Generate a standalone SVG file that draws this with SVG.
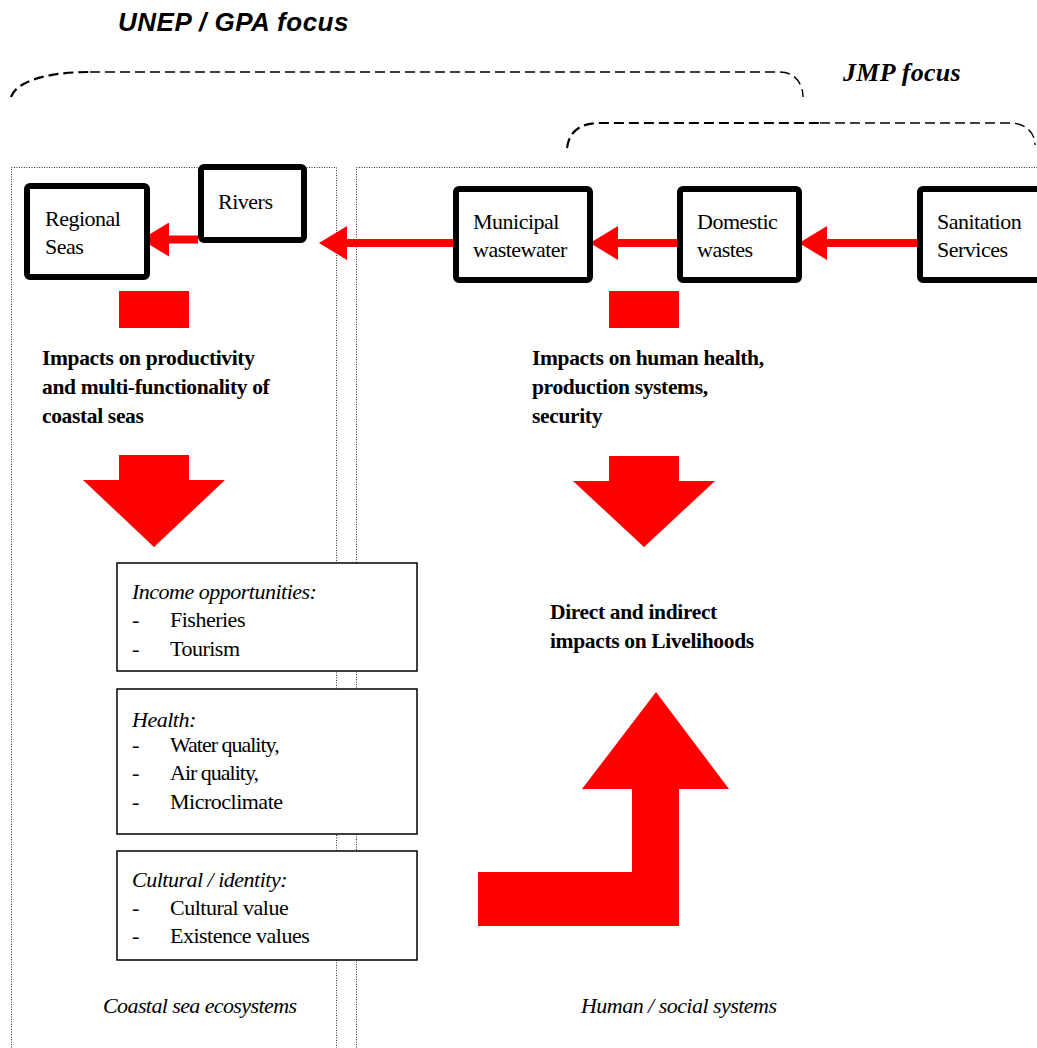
<svg xmlns="http://www.w3.org/2000/svg" width="1037" height="1048" viewBox="0 0 1037 1048">
  <style>
    .serif { font-family: "Liberation Serif", "Times New Roman", serif; fill: #000; }
    .node-box { fill: #fff; stroke: #000; stroke-width: 6; }
    .node-text { font-size: 22px; letter-spacing: -0.5px; }
    .impact { font-size: 21.5px; font-weight: bold; letter-spacing: -0.35px; }
    .list-box { fill: #fff; stroke: #000; stroke-width: 1.5; }
    .list { font-size: 22px; letter-spacing: -0.5px; }
    .list-tight { font-size: 22px; letter-spacing: -1px; }
    .ital { font-style: italic; }
    .panel { fill: none; stroke: #333; stroke-width: 1; stroke-dasharray: 1 1.5; }
    .brace-heavy { fill: none; stroke: #000; stroke-width: 2.2; stroke-dasharray: 10 5; }
    .brace-light { fill: none; stroke: #000; stroke-width: 1.4; stroke-dasharray: 10 5; }
    .flow { stroke: #ff0000; stroke-width: 8; fill: none; marker-end: url(#head); }
    .block { fill: #ff0000; }
  </style>
  <defs>
    <marker id="head" markerUnits="userSpaceOnUse" viewBox="0 0 28 34" markerWidth="28" markerHeight="34" refX="0" refY="17" orient="auto">
      <path d="M0,0 L28,17 L0,34 Z" fill="#ff0000"/>
    </marker>
  </defs>

  <rect width="1037" height="1048" fill="#fff"/>

  <!-- focus titles -->
  <text x="118" y="31" font-family="Liberation Sans, Arial, sans-serif" font-size="26" font-weight="bold" font-style="italic" letter-spacing="0.5">UNEP / GPA focus</text>
  <text class="serif" x="843" y="81" font-size="26" font-weight="bold" font-style="italic" letter-spacing="0.3">JMP focus</text>

  <!-- focus braces -->
  <g id="braces">
    <path class="brace-heavy" d="M11,97 C16,82 45,72 90,72"/>
    <path class="brace-light" d="M90,72 L780,72 C795,72 803,84 803,97"/>
    <path class="brace-heavy" d="M567,148 C569,133 578,123 600,123 L820,123"/>
    <path class="brace-light" d="M820,123 L1010,123 C1026,123 1035,133 1035,145"/>
  </g>

  <!-- system panels -->
  <g id="panels">
    <path class="panel" d="M11.5,1060 V167.5 H336.5 V1060"/>
    <path class="panel" d="M356.5,1060 V167.5 H1040"/>
  </g>

  <!-- connectors -->
  <g id="connectors">
    <line class="flow" x1="918" y1="243" x2="827" y2="243"/>
    <line class="flow" x1="677" y1="243" x2="618" y2="243"/>
    <line class="flow" x1="453" y1="243" x2="347" y2="243"/>
    <line class="flow" x1="198" y1="239.5" x2="169" y2="239.5"/>
    <rect class="block" x="119" y="291" width="70" height="37"/>
    <rect class="block" x="609" y="291" width="70" height="37"/>
    <polygon class="block" points="119,455 189,455 189,480 225,480 154,547 83,480 119,480"/>
    <polygon class="block" points="609,456 679,456 679,481 715,481 644,547 573,481 609,481"/>
    <polygon class="block" points="478,872 632,872 632,789 582,789 656,692 729,789 679,789 679,926 478,926"/>
  </g>

  <!-- flow nodes -->
  <g id="regional-seas">
    <rect class="node-box" x="27" y="186" width="120" height="91" rx="3"/>
    <text class="serif node-text" x="45" y="226">Regional</text>
    <text class="serif node-text" x="45" y="254">Seas</text>
  </g>
  <g id="rivers">
    <rect class="node-box" x="201" y="167" width="103" height="73" rx="3"/>
    <text class="serif node-text" x="218" y="209">Rivers</text>
  </g>
  <g id="municipal-wastewater">
    <rect class="node-box" x="456" y="189" width="134" height="91" rx="3"/>
    <text class="serif node-text" x="473" y="229">Municipal</text>
    <text class="serif node-text" x="473" y="257">wastewater</text>
  </g>
  <g id="domestic-wastes">
    <rect class="node-box" x="680" y="189" width="119" height="91" rx="3"/>
    <text class="serif node-text" x="697" y="229">Domestic</text>
    <text class="serif node-text" x="697" y="257">wastes</text>
  </g>
  <g id="sanitation-services">
    <rect class="node-box" x="920" y="189" width="130" height="91" rx="3"/>
    <text class="serif node-text" x="937" y="229">Sanitation</text>
    <text class="serif node-text" x="937" y="257">Services</text>
  </g>

  <!-- impact statements -->
  <g id="coastal-impacts">
    <text class="serif impact" x="42" y="365">Impacts on productivity</text>
    <text class="serif impact" x="42" y="394">and multi-functionality of</text>
    <text class="serif impact" x="42" y="423">coastal seas</text>
  </g>
  <g id="human-impacts">
    <text class="serif impact" x="532" y="365">Impacts on human health,</text>
    <text class="serif impact" x="532" y="394">production systems,</text>
    <text class="serif impact" x="532" y="423">security</text>
  </g>
  <g id="livelihoods">
    <text class="serif impact" x="550" y="619">Direct and indirect</text>
    <text class="serif impact" x="550" y="648">impacts on Livelihoods</text>
  </g>

  <!-- ecosystem service boxes -->
  <g id="income">
    <rect class="list-box" x="117" y="563" width="300" height="108"/>
    <text class="serif list ital" x="132" y="599">Income opportunities:</text>
    <text class="serif list" x="132" y="627">-</text>
    <text class="serif list" x="170" y="627">Fisheries</text>
    <text class="serif list" x="132" y="656">-</text>
    <text class="serif list" x="170" y="656">Tourism</text>
  </g>
  <g id="health">
    <rect class="list-box" x="117" y="689" width="300" height="145"/>
    <text class="serif list ital" x="132" y="727">Health:</text>
    <text class="serif list" x="132" y="752">-</text>
    <text class="serif list-tight" x="170" y="752">Water quality,</text>
    <text class="serif list" x="132" y="780">-</text>
    <text class="serif list-tight" x="170" y="780">Air quality,</text>
    <text class="serif list" x="132" y="809">-</text>
    <text class="serif list" x="170" y="809">Microclimate</text>
  </g>
  <g id="cultural">
    <rect class="list-box" x="117" y="851" width="300" height="109"/>
    <text class="serif list ital" x="132" y="887">Cultural / identity:</text>
    <text class="serif list" x="132" y="915">-</text>
    <text class="serif list" x="170" y="915">Cultural value</text>
    <text class="serif list" x="132" y="943">-</text>
    <text class="serif list" x="170" y="943">Existence values</text>
  </g>

  <!-- panel captions -->
  <text class="serif ital" x="103" y="1013" font-size="22" textLength="194">Coastal sea ecosystems</text>
  <text class="serif ital" x="581" y="1013" font-size="22" textLength="196">Human / social systems</text>
</svg>
